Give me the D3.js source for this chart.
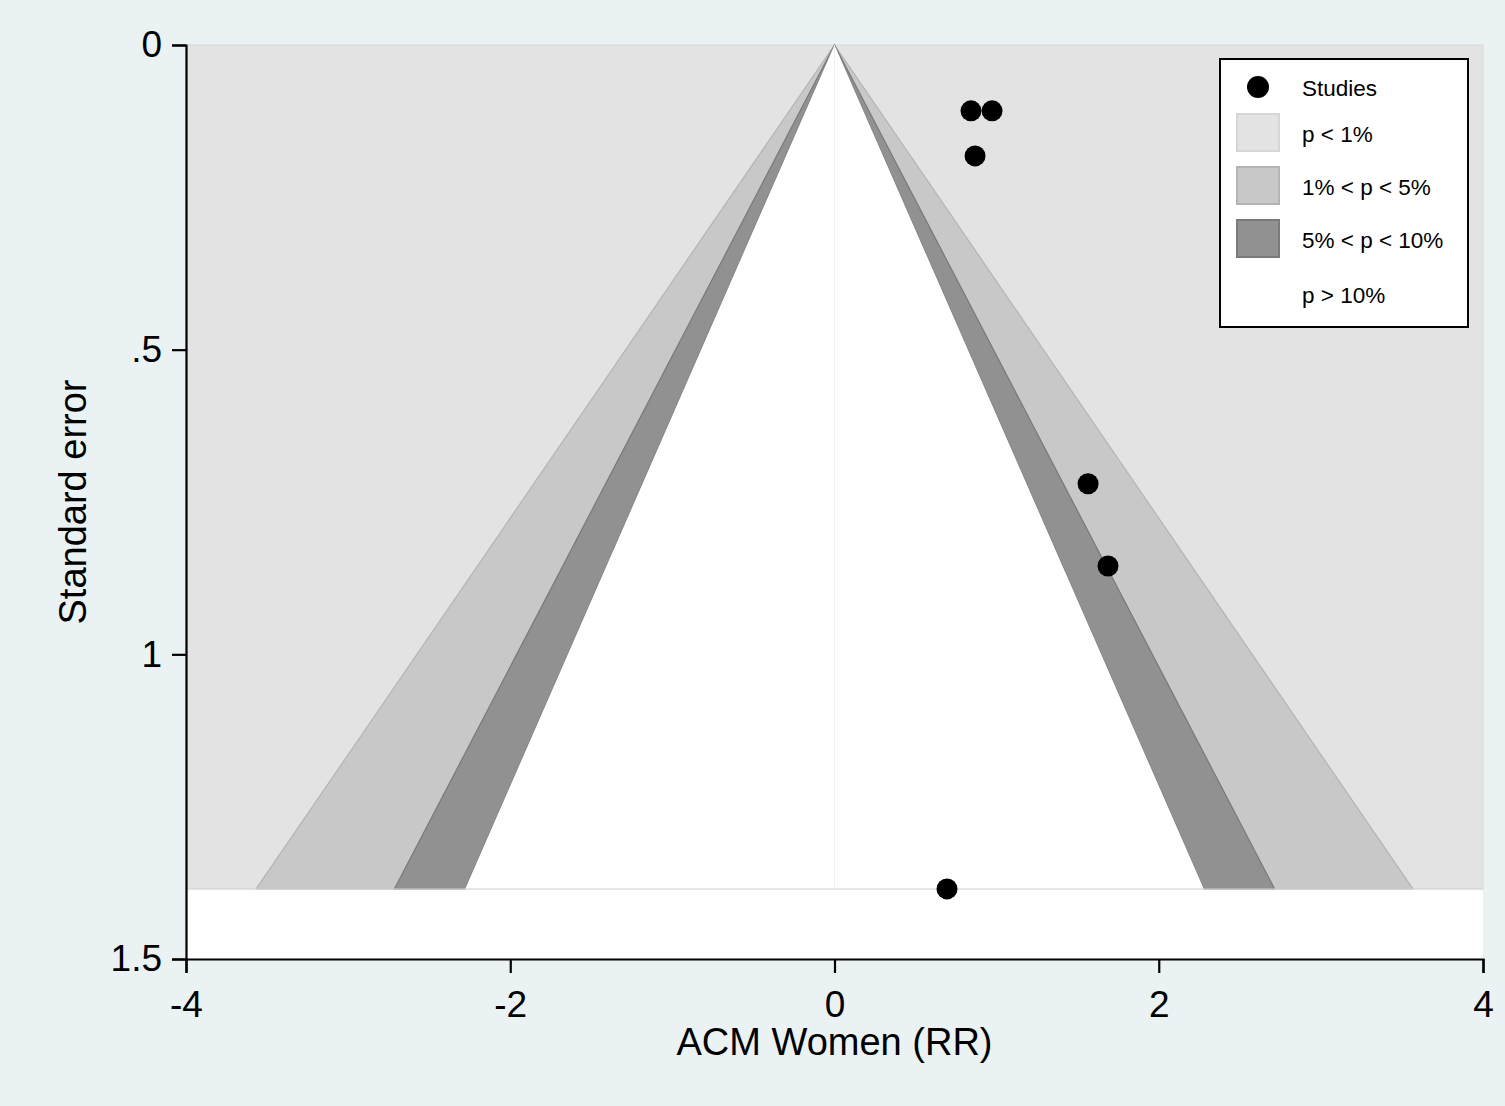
<!DOCTYPE html>
<html>
<head>
<meta charset="utf-8">
<script src="https://cdn.jsdelivr.net/npm/d3@7"></script>
<style>
  body { margin: 0; background: #eaf2f3; }
  text { font-family: "Liberation Sans", Arial, sans-serif; fill: #000; }
</style>
</head>
<body>
<svg id="chart" width="1505" height="1106"></svg>
<script>
// study estimates (log RR) and their standard errors
var studyEffect = [0.842, 0.972, 0.867, 1.564, 1.687, 0.694];
var studySE     = [0.108, 0.108, 0.182, 0.720, 0.855, 1.385];

// contour z values for p = 1%, 5%, 10%
var contourZ = [2.576, 1.96, 1.645];
var contourFill = ["#c8c8c8", "#919191"];
var contourStroke = ["#b4b4b4", "#7a7a7a"];

var xTicks = [-4, -2, 0, 2, 4];
var xTickLabels = ["-4", "-2", "0", "2", "4"];
var yTicks = [0, 0.5, 1, 1.5];
var yTickLabels = ["0", ".5", "1", "1.5"];

var legendLabels = ["Studies", "p < 1%", "1% < p < 5%", "5% < p < 10%", "p > 10%"];

var svg = d3.select("#chart");
var mLeft = 186, mRight = 1483, mTop = 45, mBottom = 959;

var x = d3.scaleLinear().domain([-4, 4]).range([mLeft, mRight]);
var y = d3.scaleLinear().domain([0, 1.5]).range([mTop, mBottom]);

var seMax = d3.max(studySE);

// plot area
svg.append("rect")
    .attr("x", mLeft).attr("y", mTop)
    .attr("width", mRight - mLeft).attr("height", mBottom - mTop)
    .style("fill", "#ffffff");

svg.append("rect")
    .attr("x", mLeft).attr("y", mTop)
    .attr("width", mRight - mLeft).attr("height", y(seMax) - mTop)
    .style("fill", "#e3e3e3")
    .style("stroke", "#d8d8d8").style("stroke-width", 1);

var line = d3.line().x(function(d) { return x(d[0]); }).y(function(d) { return y(d[1]); });

// contour bands, outer to inner
for (var i = 0; i < 2; i++) {
    [1, -1].forEach(function(s) {
        svg.append("path")
            .attr("d", line([[0, 0], [s * contourZ[i] * seMax, seMax], [s * contourZ[i + 1] * seMax, seMax]]) + "Z")
            .style("fill", contourFill[i])
            .style("stroke", contourStroke[i])
            .style("stroke-width", 1.2)
            .style("stroke-linejoin", "round");
    });
}

// non-significant region
svg.append("path")
    .attr("d", line([[0, 0], [contourZ[2] * seMax, seMax], [-contourZ[2] * seMax, seMax]]) + "Z")
    .style("fill", "#ffffff");

svg.append("line")
    .attr("x1", x(0)).attr("x2", x(0)).attr("y1", mTop).attr("y2", y(seMax))
    .style("stroke", "#eeeeee").style("stroke-width", 1);
svg.append("line")
    .attr("x1", mLeft).attr("x2", mRight).attr("y1", y(seMax)).attr("y2", y(seMax))
    .style("stroke", "#d6d6d6").style("stroke-width", 1);

// studies
svg.selectAll("circle.study")
    .data(studyEffect)
    .enter().append("circle")
    .attr("class", "study")
    .attr("cx", function(d) { return x(d); })
    .attr("cy", function(d, i) { return y(studySE[i]); })
    .attr("r", 10.5)
    .style("fill", "#000");

// axes
var xAxis = svg.append("g")
    .attr("transform", "translate(0," + mBottom + ")")
    .call(d3.axisBottom(x).tickValues(xTicks).tickSize(14)
        .tickFormat(function(d, i) { return xTickLabels[i]; }));
var yAxis = svg.append("g")
    .attr("transform", "translate(" + mLeft + ",0)")
    .call(d3.axisLeft(y).tickValues(yTicks).tickSize(14).tickPadding(10)
        .tickFormat(function(d, i) { return yTickLabels[i]; }));

[xAxis, yAxis].forEach(function(a) {
    a.select(".domain").style("stroke", "#000").style("stroke-width", 2.2);
    a.selectAll(".tick line").style("stroke", "#000").style("stroke-width", 2.2);
    a.selectAll(".tick text")
        .style("font-family", "\"Liberation Sans\", Arial, sans-serif")
        .style("font-size", "37px").style("fill", "#000");
});
xAxis.selectAll(".tick text").attr("y", 58).attr("dy", 0);

svg.append("text")
    .attr("x", x(0)).attr("y", 1055)
    .attr("text-anchor", "middle")
    .style("font-size", "38px")
    .text("ACM Women (RR)");
svg.append("text")
    .attr("transform", "translate(86," + ((mTop + mBottom) / 2) + ") rotate(-90)")
    .attr("text-anchor", "middle")
    .style("font-size", "38px")
    .text("Standard error");

// legend
var lg = svg.append("g").attr("transform", "translate(1220,59)");
lg.append("rect")
    .attr("width", 248).attr("height", 268)
    .style("fill", "#fff").style("stroke", "#000").style("stroke-width", 2);

var swatchFill = ["#e3e3e3", "#c8c8c8", "#919191"];
var swatchStroke = ["#d6d6d6", "#b4b4b4", "#7a7a7a"];
var rowY = [29, 75, 128, 181, 236];
legendLabels.forEach(function(t, i) {
    var cy = rowY[i];
    if (i == 0) {
        lg.append("circle").attr("cx", 38).attr("cy", cy - 1).attr("r", 11).style("fill", "#000");
    } else if (i < 4) {
        lg.append("rect")
            .attr("x", 17).attr("y", cy - 20).attr("width", 42).attr("height", 37)
            .style("fill", swatchFill[i - 1])
            .style("stroke", swatchStroke[i - 1]).style("stroke-width", 2);
    }
    lg.append("text")
        .attr("x", 82).attr("y", cy + 8)
        .style("font-size", "22.5px")
        .text(t);
});
</script>
</body>
</html>
